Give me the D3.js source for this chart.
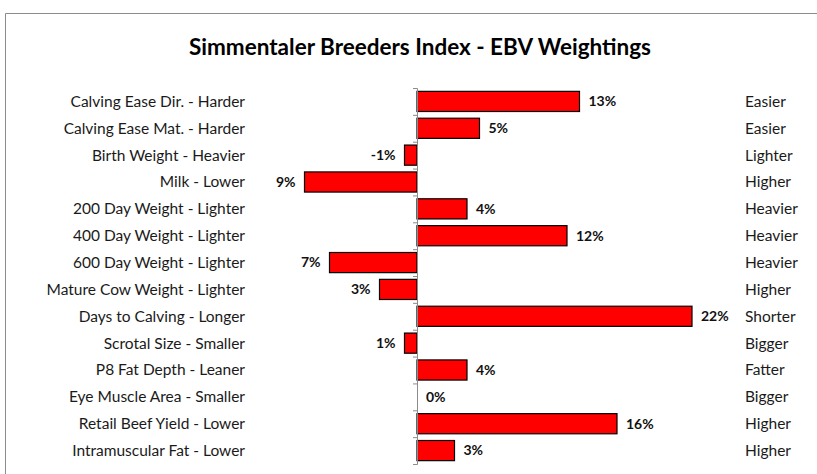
<!DOCTYPE html>
<html>
<head>
<meta charset="utf-8">
<script src="https://cdn.jsdelivr.net/npm/d3@7"></script>
<style>
  body { margin: 0; background: #fff; }
  svg { display: block; font-family: Lato, "Open Sans", sans-serif; }
</style>
</head>
<body>
<svg id="chart" width="817" height="474"></svg>
<script>
// Chart data
const traits = [
  'Calving Ease Dir. - Harder', 'Calving Ease Mat. - Harder', 'Birth Weight - Heavier',
  'Milk - Lower', '200 Day Weight - Lighter', '400 Day Weight - Lighter',
  '600 Day Weight - Lighter', 'Mature Cow Weight - Lighter', 'Days to Calving - Longer',
  'Scrotal Size - Smaller', 'P8 Fat Depth - Leaner', 'Eye Muscle Area - Smaller',
  'Retail Beef Yield - Lower', 'Intramuscular Fat - Lower'
];
const directions = [
  'Easier', 'Easier', 'Lighter', 'Higher', 'Heavier', 'Heavier', 'Heavier',
  'Higher', 'Shorter', 'Bigger', 'Fatter', 'Bigger', 'Higher', 'Higher'
];
const weights = [13, 5, -1, -9, 4, 12, -7, -3, 22, -1, 4, 0, 16, 3];
const valueLabels = ['13%', '5%', '-1%', '9%', '4%', '12%', '7%', '3%', '22%', '1%', '4%', '0%', '16%', '3%'];

const rows = traits.map((t, i) => ({ trait: t, dir: directions[i], value: weights[i], label: valueLabels[i] }));

const svg = d3.select('#chart');

// frame
svg.append('path')
  .attr('d', 'M5.5,474 V13.5 H817')
  .attr('fill', 'none')
  .attr('stroke', '#8c8c8c')
  .attr('stroke-width', 1);

// title
svg.append('text')
  .attr('x', 420)
  .attr('y', 55)
  .attr('text-anchor', 'middle')
  .attr('font-size', 22.5)
  .attr('font-weight', 'bold')
  .attr('fill', '#000')
  .text('Simmentaler Breeders Index - EBV Weightings');

const x = d3.scaleLinear().domain([0, 22]).range([417, 692]);
const y = d3.scaleBand().domain(traits).range([88, 464]).paddingInner(0.25).paddingOuter(0.125);

// bars
svg.append('g')
  .selectAll('rect')
  .data(rows.filter(d => d.value !== 0))
  .join('rect')
  .attr('x', d => Math.min(x(d.value), x(0)))
  .attr('y', d => y(d.trait))
  .attr('width', d => Math.abs(x(d.value) - x(0)))
  .attr('height', y.bandwidth())
  .attr('fill', '#ff0000')
  .attr('stroke', '#000')
  .attr('stroke-width', 1.2);

// axis at zero
const axis = d3.axisLeft(d3.scaleLinear().domain([0, 14]).range([88, 464]))
  .tickValues(d3.range(0, 15))
  .tickSize(4)
  .tickFormat('');
const ag = svg.append('g')
  .attr('transform', `translate(${x(0)},0)`)
  .call(axis);
ag.select('.domain').attr('stroke', '#8c8c8c');
ag.selectAll('.tick line').attr('stroke', '#8c8c8c');

// left labels
svg.append('g')
  .selectAll('text')
  .data(rows)
  .join('text')
  .attr('x', 245)
  .attr('y', d => y(d.trait) + y.bandwidth() / 2)
  .attr('dy', '0.35em')
  .attr('text-anchor', 'end')
  .attr('font-size', 15.5)
  .attr('fill', '#1a1a1a')
  .text(d => d.trait);

// right labels
svg.append('g')
  .selectAll('text')
  .data(rows)
  .join('text')
  .attr('x', 745)
  .attr('y', d => y(d.trait) + y.bandwidth() / 2)
  .attr('dy', '0.35em')
  .attr('font-size', 15.5)
  .attr('fill', '#1a1a1a')
  .text(d => d.dir);

// value labels
svg.append('g')
  .selectAll('text')
  .data(rows)
  .join('text')
  .attr('x', d => d.value >= 0 ? x(d.value) + 9 : x(d.value) - 9)
  .attr('y', d => y(d.trait) + y.bandwidth() / 2)
  .attr('dy', '0.35em')
  .attr('text-anchor', d => d.value >= 0 ? 'start' : 'end')
  .attr('font-size', 14)
  .attr('font-weight', 'bold')
  .attr('fill', '#111')
  .text(d => d.label);
</script>
</body>
</html>
